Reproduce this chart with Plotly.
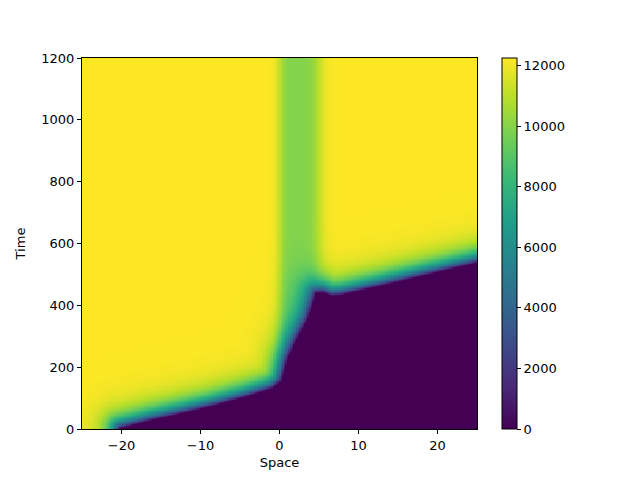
import numpy as np
import plotly.graph_objects as go

# Front arrival time (space -> time where the dark region ends)
front_x = [-25.0, -20.4, -20.2, -16.0, -12.4, -8.6, -4.0, -1.0, 0.2, 1.1, 2.0, 3.6, 4.2, 4.6, 5.5, 6.5, 7.7, 12.8, 25.0]
front_t = [-150.0, -150.0, 0.0, 28.0, 49.0, 72.0, 105.0, 130.0, 153.0, 230.0, 280.0, 357.0, 405.0, 438.0, 440.0, 430.0, 432.0, 462.0, 537.0]

# Plateau levels behind the front
top_level = 12250.0
band_level = 9900.0
band_edges = [0.0, 5.0]      # lighter green column
band_blur = [0.35, 0.5]      # edge softness (space units)

ramp_px = 10.0               # rise length behind the front, in screen pixels

space = np.linspace(-25, 25, 251)
time = np.linspace(0, 1200, 301)

# screen scale of the axes (px per unit) to measure distance to the front
sx, st = 397 / 50.0, 369 / 1200.0

X, T = np.meshgrid(space, time)
fx = np.array(front_x) * sx
ft = np.array(front_t) * st
px, pt = X * sx, T * st

dist = np.full(X.shape, np.inf)
for i in range(len(fx) - 1):
    ax, ay, bx, by = fx[i], ft[i], fx[i + 1], ft[i + 1]
    dx, dy = bx - ax, by - ay
    u = np.clip(((px - ax) * dx + (pt - ay) * dy) / (dx * dx + dy * dy), 0, 1)
    d = np.hypot(px - (ax + u * dx), pt - (ay + u * dy))
    dist = np.minimum(dist, d)

behind = T > np.interp(X, front_x, front_t)
ramp = np.where(behind, 1 - np.exp(-dist / ramp_px), 0.0)

band = 1 / (1 + np.exp(-(space - band_edges[0]) / band_blur[0])) * \
       1 / (1 + np.exp(-(band_edges[1] - space) / band_blur[1]))
level = top_level - (top_level - band_level) * band

z = ramp * level[None, :]

fig = go.Figure(go.Heatmap(
    x=space,
    y=time,
    z=z,
    colorscale="Viridis",
    zmin=0,
    zmax=top_level,
    zsmooth=False,
    hoverinfo="skip",
    colorbar=dict(
        thickness=15,
        len=1,
        lenmode="fraction",
        x=1.063,
        xanchor="left",
        xpad=0,
        ypad=0,
        y=0.5,
        outlinewidth=1,
        outlinecolor="black",
        tickvals=[0, 2000, 4000, 6000, 8000, 10000, 12000],
        tickformat="d",
        ticks="outside",
        ticklen=4,
        tickcolor="black",
        tickfont=dict(size=13, color="black"),
    ),
))

axis_common = dict(
    showgrid=False,
    zeroline=False,
    showline=True,
    linecolor="black",
    linewidth=1,
    mirror=True,
    ticks="outside",
    ticklen=4,
    tickcolor="black",
    tickfont=dict(size=13, color="black"),
)

# page body adds an 8px offset, so the figure is shrunk and margins trimmed by 8
fig.update_layout(
    width=632,
    height=472,
    margin=dict(l=72, r=163, t=50, b=45),
    paper_bgcolor="white",
    plot_bgcolor="white",
    font=dict(family="DejaVu Sans", color="black"),
    xaxis=dict(range=[-25, 25], tickvals=[-20, -10, 0, 10, 20],
               title=dict(text="Space", font=dict(size=13), standoff=6), **axis_common),
    yaxis=dict(range=[0, 1200], tickvals=[0, 200, 400, 600, 800, 1000, 1200],
               title=dict(text="Time", font=dict(size=13), standoff=12), **axis_common),
)

fig.write_html("out.html")
